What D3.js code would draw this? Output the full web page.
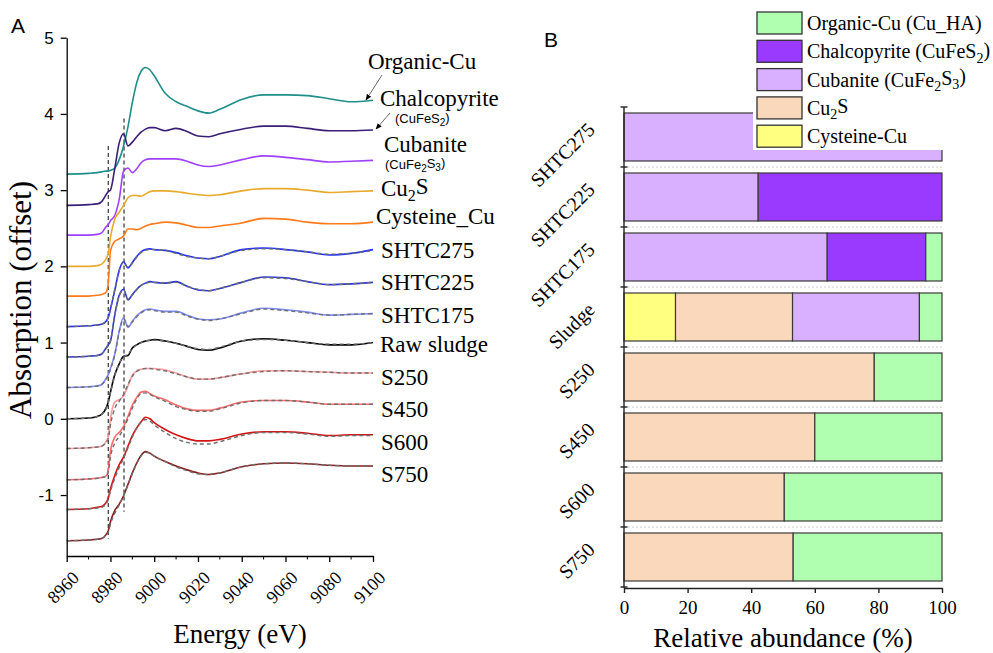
<!DOCTYPE html>
<html>
<head>
<meta charset="utf-8">
<script src="https://cdn.jsdelivr.net/npm/d3@7"></script>
<style>
  body { margin: 0; background: #fff; }
  svg { display: block; }
  .serif { font-family: "Liberation Serif", "Times New Roman", serif; }
  .sans { font-family: "Liberation Sans", Arial, sans-serif; }
</style>
</head>
<body>
<svg id="chart" width="993" height="653"></svg>
<script>
// ---------- Panel A data (normalised XANES, offset) ----------
const energy = [8960, 8970, 8974, 8976, 8978, 8979, 8980, 8982, 8984, 8986, 8988, 8990, 8992, 8994, 8996,
  8998, 9000, 9005, 9010, 9015, 9020, 9025, 9030, 9040, 9050, 9060, 9070, 9080, 9090, 9100];

const organicCuRef = [3.21, 3.22, 3.23, 3.24, 3.25, 3.25, 3.26, 3.29, 3.40, 3.58, 3.83, 4.15, 4.41, 4.56, 4.61,
  4.58, 4.50, 4.27, 4.16, 4.10, 4.04, 4.01, 4.06, 4.19, 4.25, 4.25, 4.24, 4.20, 4.16, 4.18];
const chalcopyriteRef = [2.80, 2.81, 2.82, 2.85, 2.94, 2.98, 3.00, 3.29, 3.62, 3.74, 3.58, 3.63, 3.70, 3.76, 3.80,
  3.82, 3.82, 3.78, 3.81, 3.77, 3.71, 3.70, 3.74, 3.80, 3.84, 3.84, 3.81, 3.78, 3.78, 3.79];
const cubaniteRef = [2.41, 2.41, 2.42, 2.44, 2.52, 2.55, 2.60, 2.67, 2.88, 3.25, 3.29, 3.23, 3.28, 3.36, 3.40,
  3.41, 3.41, 3.41, 3.41, 3.38, 3.33, 3.31, 3.33, 3.40, 3.45, 3.43, 3.40, 3.37, 3.38, 3.39];
const cu2SRef = [2.00, 2.00, 2.01, 2.03, 2.10, 2.17, 2.38, 2.62, 2.71, 2.80, 2.90, 2.93, 2.93, 2.92, 2.95,
  2.98, 2.99, 2.99, 2.98, 2.96, 2.94, 2.93, 2.94, 2.99, 3.02, 3.02, 3.00, 2.97, 2.98, 2.99];
const cysteineCuRef = [1.61, 1.61, 1.62, 1.63, 1.66, 1.78, 2.20, 2.33, 2.36, 2.40, 2.49, 2.49, 2.48, 2.50, 2.53,
  2.55, 2.56, 2.58, 2.57, 2.54, 2.51, 2.51, 2.53, 2.57, 2.63, 2.62, 2.58, 2.56, 2.56, 2.58];

const shtc275 = [1.21, 1.22, 1.23, 1.24, 1.28, 1.33, 1.44, 1.69, 1.95, 2.06, 1.98, 2.05, 2.13, 2.19, 2.22,
  2.23, 2.22, 2.21, 2.18, 2.14, 2.11, 2.10, 2.13, 2.22, 2.24, 2.22, 2.19, 2.15, 2.17, 2.22];
const shtc275Fit = [1.21, 1.22, 1.23, 1.24, 1.28, 1.33, 1.44, 1.70, 1.94, 2.05, 1.99, 2.04, 2.12, 2.18, 2.21,
  2.22, 2.22, 2.21, 2.17, 2.13, 2.11, 2.10, 2.13, 2.21, 2.23, 2.22, 2.19, 2.16, 2.17, 2.21];
const shtc225 = [0.81, 0.82, 0.83, 0.85, 0.93, 0.97, 1.02, 1.37, 1.62, 1.70, 1.56, 1.63, 1.70, 1.75, 1.78,
  1.80, 1.79, 1.78, 1.80, 1.74, 1.69, 1.68, 1.71, 1.79, 1.86, 1.85, 1.80, 1.76, 1.77, 1.79];
const shtc225Fit = [0.81, 0.82, 0.83, 0.85, 0.92, 0.96, 1.02, 1.36, 1.61, 1.69, 1.57, 1.62, 1.69, 1.75, 1.78,
  1.79, 1.79, 1.78, 1.79, 1.74, 1.70, 1.68, 1.71, 1.79, 1.85, 1.84, 1.80, 1.76, 1.77, 1.79];
const shtc175 = [0.41, 0.42, 0.43, 0.45, 0.53, 0.58, 0.66, 0.85, 1.15, 1.33, 1.20, 1.28, 1.35, 1.40, 1.43,
  1.44, 1.43, 1.41, 1.41, 1.36, 1.31, 1.30, 1.31, 1.39, 1.45, 1.43, 1.40, 1.36, 1.37, 1.38];
const shtc175Fit = [0.41, 0.42, 0.43, 0.45, 0.52, 0.57, 0.65, 0.84, 1.14, 1.31, 1.21, 1.27, 1.34, 1.39, 1.42,
  1.43, 1.42, 1.40, 1.40, 1.35, 1.31, 1.29, 1.31, 1.38, 1.44, 1.42, 1.39, 1.36, 1.37, 1.38];
const rawSludge = [0.00, 0.01, 0.03, 0.06, 0.14, 0.22, 0.35, 0.58, 0.72, 0.82, 0.83, 0.93, 0.97, 1.00, 1.02,
  1.03, 1.04, 1.02, 0.99, 0.95, 0.91, 0.90, 0.93, 1.02, 1.05, 1.03, 1.00, 0.97, 0.97, 1.00];
const rawSludgeFit = [0.00, 0.01, 0.03, 0.06, 0.13, 0.21, 0.34, 0.57, 0.73, 0.81, 0.85, 0.92, 0.97, 1.00, 1.02,
  1.03, 1.03, 1.02, 0.99, 0.95, 0.92, 0.91, 0.94, 1.02, 1.04, 1.03, 1.00, 0.98, 0.98, 1.00];
const s250 = [-0.39, -0.38, -0.37, -0.36, -0.30, -0.24, 0.00, 0.22, 0.25, 0.30, 0.43, 0.57, 0.63, 0.65, 0.66,
  0.66, 0.66, 0.64, 0.60, 0.55, 0.52, 0.52, 0.54, 0.59, 0.63, 0.63, 0.62, 0.61, 0.60, 0.60];
const s250Fit = [-0.39, -0.38, -0.37, -0.36, -0.31, -0.26, -0.08, 0.14, 0.23, 0.32, 0.45, 0.56, 0.62, 0.65, 0.66,
  0.66, 0.65, 0.63, 0.59, 0.55, 0.52, 0.52, 0.54, 0.59, 0.62, 0.63, 0.62, 0.61, 0.60, 0.60];
const s450 = [-0.80, -0.79, -0.78, -0.77, -0.75, -0.67, -0.42, -0.24, -0.18, -0.10, 0.03, 0.18, 0.28, 0.35, 0.36,
  0.33, 0.30, 0.25, 0.18, 0.13, 0.11, 0.11, 0.14, 0.22, 0.24, 0.24, 0.22, 0.19, 0.19, 0.19];
const s450Fit = [-0.80, -0.79, -0.78, -0.77, -0.76, -0.70, -0.50, -0.32, -0.23, -0.13, 0.00, 0.14, 0.26, 0.33, 0.34,
  0.32, 0.29, 0.23, 0.16, 0.12, 0.10, 0.10, 0.13, 0.21, 0.24, 0.24, 0.22, 0.19, 0.19, 0.19];
const s600 = [-1.19, -1.18, -1.16, -1.15, -1.10, -1.04, -0.92, -0.74, -0.60, -0.50, -0.36, -0.22, -0.12, -0.04, 0.02,
  0.00, -0.05, -0.14, -0.21, -0.26, -0.29, -0.29, -0.27, -0.20, -0.17, -0.17, -0.19, -0.22, -0.21, -0.21];
const s600Fit = [-1.19, -1.18, -1.17, -1.16, -1.12, -1.06, -0.95, -0.78, -0.64, -0.52, -0.38, -0.24, -0.12, -0.05, -0.01,
  -0.03, -0.08, -0.18, -0.26, -0.31, -0.33, -0.33, -0.30, -0.22, -0.18, -0.18, -0.20, -0.23, -0.22, -0.22];
const s750 = [-1.60, -1.59, -1.58, -1.57, -1.52, -1.47, -1.35, -1.20, -1.12, -1.01, -0.86, -0.71, -0.58, -0.48, -0.43,
  -0.45, -0.49, -0.56, -0.62, -0.67, -0.71, -0.73, -0.71, -0.63, -0.59, -0.58, -0.59, -0.61, -0.62, -0.62];
const s750Fit = [-1.60, -1.59, -1.58, -1.57, -1.53, -1.49, -1.38, -1.24, -1.13, -1.01, -0.87, -0.72, -0.59, -0.49, -0.44,
  -0.45, -0.49, -0.56, -0.63, -0.68, -0.72, -0.73, -0.71, -0.63, -0.59, -0.58, -0.59, -0.61, -0.62, -0.62];

// vertical dashed guides at the two edge features
const guideEnergy = [8979, 8986.2];
const guideTop = [3.58, 3.94];
const guideBottom = [-1.57, -1.22];

// ---------- Panel B data (relative abundance, %) ----------
const samples = ["SHTC275", "SHTC225", "SHTC175", "Sludge", "S250", "S450", "S600", "S750"];
const cysteineCu = [0, 0, 0, 16.2, 0, 0, 0, 0];
const cu2S = [0, 0, 0, 36.8, 78.7, 60.0, 50.4, 53.2];
const cubanite = [100, 42.2, 63.9, 39.9, 0, 0, 0, 0];
const chalcopyrite = [0, 57.8, 31.0, 0, 0, 0, 0, 0];
const organicCu = [0, 0, 5.1, 7.1, 21.3, 40.0, 49.6, 46.8];
const xTicksB = [0, 20, 40, 60, 80, 100];

const SERIF = '"Liberation Serif", "Times New Roman", serif';
const SANS = '"Liberation Sans", Arial, sans-serif';
const plain = d => String(d);   // keep hyphen-minus like the original

const svg = d3.select("#chart");
svg.append("rect").attr("width", 993).attr("height", 653).attr("fill", "#fff");

// helper: write text with subscript pieces, parts = [[str, isSub], ...]
function richText(sel, parts, subSize) {
  parts.forEach(([s, sub], i) => {
    const t = sel.append("tspan").text(s);
    if (sub) t.attr("font-size", subSize).attr("dy", "0.3em");
    else if (i > 0 && parts[i - 1][1]) t.attr("dy", "-0.3em");
  });
  return sel;
}

// =================== Panel A ===================
const xA = d3.scaleLinear().domain([8960, 9100]).range([66.7, 373]);
const yA = d3.scaleLinear().domain([-1.8, 5]).range([556, 37.7]);

const gA = svg.append("g");

const spectra = [
  { name: "Organic-Cu", v: organicCuRef, color: "#1f8f8a" },
  { name: "Chalcopyrite", v: chalcopyriteRef, color: "#3a1f78" },
  { name: "Cubanite", v: cubaniteRef, color: "#a040ff" },
  { name: "Cu2S", v: cu2SRef, color: "#e9a92c" },
  { name: "Cysteine_Cu", v: cysteineCuRef, color: "#ff7a1a" },
  { name: "SHTC275", v: shtc275, fit: shtc275Fit, color: "#1f2fff" },
  { name: "SHTC225", v: shtc225, fit: shtc225Fit, color: "#2a36d8" },
  { name: "SHTC175", v: shtc175, fit: shtc175Fit, color: "#7d8cff" },
  { name: "Raw sludge", v: rawSludge, fit: rawSludgeFit, color: "#000000" },
  { name: "S250", v: s250, fit: s250Fit, color: "#ff9a9a" },
  { name: "S450", v: s450, fit: s450Fit, color: "#ff6a6a" },
  { name: "S600", v: s600, fit: s600Fit, color: "#d41414" },
  { name: "S750", v: s750, fit: s750Fit, color: "#8e1a1a" }
];

const line = d3.line()
  .x((d, i) => xA(energy[i]))
  .y(d => yA(d))
  .curve(d3.curveMonotoneX);

// guides
gA.selectAll(".guide").data(guideEnergy).join("line")
  .attr("x1", d => xA(d)).attr("x2", d => xA(d))
  .attr("y1", (d, i) => yA(guideTop[i])).attr("y2", (d, i) => yA(guideBottom[i]))
  .attr("stroke", "#333").attr("stroke-width", 1.2).attr("stroke-dasharray", "4,3");

spectra.forEach(s => {
  gA.append("path").attr("d", line(s.v)).attr("fill", "none")
    .attr("stroke", s.color).attr("stroke-width", 1.6);
  if (s.fit) {
    gA.append("path").attr("d", line(s.fit)).attr("fill", "none")
      .attr("stroke", "#6e6e6e").attr("stroke-width", 1.4).attr("stroke-dasharray", "4,3");
  }
});

// axes A
const yAxisA = gA.append("g").attr("transform", "translate(66.7,0)")
  .call(d3.axisLeft(yA).tickValues([-1, 0, 1, 2, 3, 4, 5]).tickFormat(plain).tickSize(6).tickSizeOuter(0).tickPadding(7));
yAxisA.selectAll("text").attr("font-family", SANS).attr("font-size", 17).attr("fill", "#000");

const xAxisA = gA.append("g").attr("transform", "translate(0,556)")
  .call(d3.axisBottom(xA).tickValues(d3.range(8960, 9101, 20)).tickFormat(plain).tickSize(6).tickSizeOuter(0));
xAxisA.selectAll("text")
  .attr("font-family", SERIF).attr("font-size", 18).attr("fill", "#000")
  .attr("text-anchor", "end").attr("x", 0).attr("y", 0).attr("dy", 0)
  .attr("transform", "translate(13,23) rotate(-45)");
gA.append("g").attr("transform", "translate(0,556)")
  .selectAll("line").data(d3.range(8970, 9100, 20)).join("line")
  .attr("x1", d => xA(d)).attr("x2", d => xA(d)).attr("y1", 0).attr("y2", 3.5)
  .attr("stroke", "#000");
[yAxisA, xAxisA].forEach(a => {
  a.selectAll("path, line").attr("stroke", "#000").attr("stroke-width", 1.3);
});

gA.append("text").attr("class", "serif")
  .attr("transform", "translate(31,300) rotate(-90)")
  .attr("text-anchor", "middle").attr("font-size", 31).text("Absorption (offset)");
gA.append("text").attr("class", "serif")
  .attr("x", 240).attr("y", 643).attr("text-anchor", "middle").attr("font-size", 27).text("Energy (eV)");
gA.append("text").attr("class", "sans").attr("x", 11).attr("y", 33).attr("font-size", 21).text("A");

// curve labels (layout: baseline positions in px)
const labelPos = {
  "Organic-Cu": [368, 69], "Chalcopyrite": [380, 106], "Cubanite": [384, 152],
  "Cu2S": [381, 196], "Cysteine_Cu": [376, 224], "SHTC275": [381, 258],
  "SHTC225": [381, 290], "SHTC175": [381, 323], "Raw sludge": [380, 352],
  "S250": [381, 385], "S450": [381, 417], "S600": [381, 450], "S750": [381, 482]
};
spectra.forEach(s => {
  const [lx, ly] = labelPos[s.name];
  const t = gA.append("text").attr("class", "serif").attr("x", lx).attr("y", ly).attr("font-size", 23);
  if (s.name === "Cu2S") richText(t, [["Cu", false], ["2", true], ["S", false]], 16);
  else t.text(s.name);
});
gA.append("text").attr("class", "sans").attr("x", 395).attr("y", 123).attr("font-size", 13)
  .call(t => richText(t, [["(CuFeS", false], ["2", true], [")", false]], 10));
gA.append("text").attr("class", "sans").attr("x", 385).attr("y", 169).attr("font-size", 13)
  .call(t => richText(t, [["(CuFe", false], ["2", true], ["S", false], ["3", true], [")", false]], 10));

// pointer arrows
svg.append("defs").append("marker").attr("id", "arr").attr("viewBox", "0 0 10 10")
  .attr("refX", 9).attr("refY", 5).attr("markerWidth", 7).attr("markerHeight", 7).attr("orient", "auto")
  .append("path").attr("d", "M0,1 L10,5 L0,9 Z").attr("fill", "#000");
[[382, 75, 366, 100], [390, 113, 376, 129]].forEach(([x1, y1, x2, y2]) => {
  gA.append("line").attr("x1", x1).attr("y1", y1).attr("x2", x2).attr("y2", y2)
    .attr("stroke", "#555").attr("stroke-width", 0.9).attr("marker-end", "url(#arr)");
});

// =================== Panel B ===================
const xB = d3.scaleLinear().domain([0, 100]).range([624, 942]);
const yB = d3.scaleBand().domain(samples).range([107, 587]).paddingInner(0.2).paddingOuter(0.1);
const gB = svg.append("g");

const comps = [
  { key: "cys", label: [["Cysteine-Cu", false]], vals: cysteineCu, color: "#ffff80" },
  { key: "cu2s", label: [["Cu", false], ["2", true], ["S", false]], vals: cu2S, color: "#fad8bb" },
  { key: "cub", label: [["Cubanite (CuFe", false], ["2", true], ["S", false], ["3", true], [")", false]], vals: cubanite, color: "#d8b0ff" },
  { key: "chal", label: [["Chalcopyrite (CuFeS", false], ["2", true], [")", false]], vals: chalcopyrite, color: "#9a3aff" },
  { key: "org", label: [["Organic-Cu (Cu_HA)", false]], vals: organicCu, color: "#b0ffb0" }
];

const table = samples.map((s, i) => {
  const row = { sample: s };
  comps.forEach(c => { row[c.key] = c.vals[i]; });
  return row;
});
const stacked = d3.stack().keys(comps.map(c => c.key))(table);

// dotted separators between rows
const boundaries = d3.range(samples.length + 1).map(i => yB.range()[0] + i * yB.step());
gB.selectAll(".sep").data(boundaries.slice(1, -1)).join("line")
  .attr("x1", xB(0)).attr("x2", xB(100)).attr("y1", d => d).attr("y2", d => d)
  .attr("stroke", "#d0d0d0").attr("stroke-width", 1).attr("stroke-dasharray", "2,2");

stacked.forEach((layer, li) => {
  gB.selectAll(".b" + li).data(layer.filter(d => d[1] - d[0] > 0)).join("rect")
    .attr("x", d => xB(d[0])).attr("width", d => xB(d[1]) - xB(d[0]))
    .attr("y", d => yB(d.data.sample)).attr("height", yB.bandwidth())
    .attr("fill", comps[li].color).attr("stroke", "#3a3a3a").attr("stroke-width", 1.2);
});

// axes B
gB.append("line").attr("x1", xB(0)).attr("x2", xB(0)).attr("y1", 107).attr("y2", 588)
  .attr("stroke", "#222").attr("stroke-width", 1.4);
gB.selectAll(".ltick").data(boundaries).join("line")
  .attr("x1", xB(0) - 3.5).attr("x2", xB(0) + 3.5).attr("y1", d => d).attr("y2", d => d)
  .attr("stroke", "#222").attr("stroke-width", 1.4);
const xAxisB = gB.append("g").attr("transform", "translate(0,588)")
  .call(d3.axisBottom(xB).tickValues(xTicksB).tickFormat(plain).tickSize(5).tickSizeOuter(0).tickPadding(8));
xAxisB.selectAll("path, line").attr("stroke", "#222").attr("stroke-width", 1.4);
xAxisB.selectAll("text").attr("font-family", SERIF).attr("font-size", 19).attr("fill", "#000");

gB.selectAll(".cat").data(samples).join("text").attr("class", "serif")
  .attr("font-size", 20).attr("text-anchor", "end")
  .attr("transform", d => `translate(${xB(0) - 28},${yB(d) + yB.bandwidth() / 2 - 6}) rotate(-45)`)
  .text(d => d);

gB.append("text").attr("class", "serif").attr("x", 783).attr("y", 647)
  .attr("text-anchor", "middle").attr("font-size", 27).text("Relative abundance (%)");
gB.append("text").attr("class", "sans").attr("x", 544).attr("y", 47).attr("font-size", 21).text("B");

// legend (white background covers top-right of first bar)
const legend = gB.append("g");
legend.append("rect").attr("x", 753).attr("y", 3).attr("width", 240).attr("height", 147).attr("fill", "#fff");
const legendOrder = ["org", "chal", "cub", "cu2s", "cys"];
legendOrder.forEach((k, i) => {
  const c = comps.find(d => d.key === k);
  const y0 = 12 + i * 28.3;
  legend.append("rect").attr("x", 757).attr("y", y0).attr("width", 45).attr("height", 22)
    .attr("fill", c.color).attr("stroke", "#333").attr("stroke-width", 1.3);
  const t = legend.append("text").attr("class", "serif").attr("x", 807).attr("y", y0 + 18).attr("font-size", 20);
  richText(t, c.label, 14);
});
</script>
</body>
</html>
